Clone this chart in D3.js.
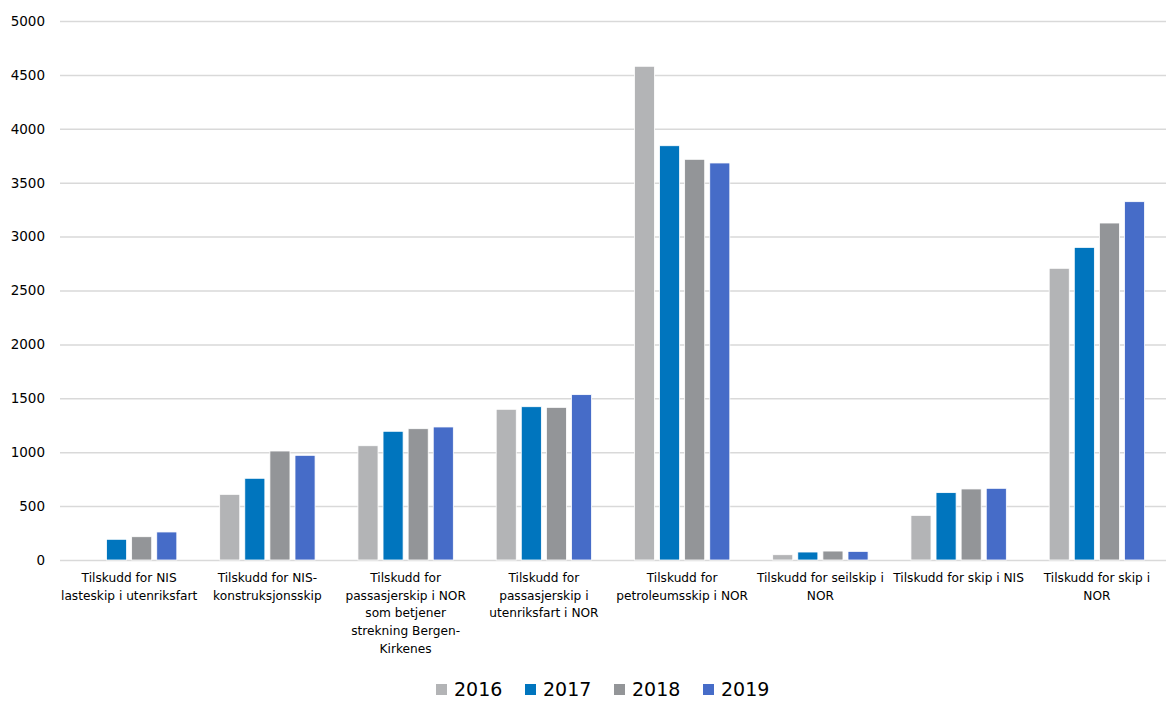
<!DOCTYPE html>
<html>
<head>
<meta charset="utf-8">
<script src="https://cdn.jsdelivr.net/npm/d3@7"></script>
<style>
  body { margin: 0; background: #fff; }
  svg text { font-family: "DejaVu Sans", sans-serif; fill: #000; }
</style>
</head>
<body>
<svg id="chart" width="1166" height="701"></svg>
<script>
// categories, with the line breaks used in the original
var categories = [
    ["Tilskudd for NIS", "lasteskip i utenriksfart"],
    ["Tilskudd for NIS-", "konstruksjonsskip"],
    ["Tilskudd for", "passasjerskip i NOR", "som betjener", "strekning Bergen-", "Kirkenes"],
    ["Tilskudd for", "passasjerskip i", "utenriksfart i NOR"],
    ["Tilskudd for", "petroleumsskip i NOR"],
    ["Tilskudd for seilskip i", "NOR"],
    ["Tilskudd for skip i NIS"],
    ["Tilskudd for skip i", "NOR"]
];
var years = ["2016", "2017", "2018", "2019"];
var values2016 = [0, 609, 1060, 1398, 4580, 49, 414, 2706];
var values2017 = [192, 758, 1194, 1422, 3843, 74, 625, 2900];
var values2018 = [216, 1011, 1218, 1416, 3717, 83, 659, 3126];
var values2019 = [260, 971, 1234, 1534, 3683, 80, 665, 3324];
var yTicks = [0, 500, 1000, 1500, 2000, 2500, 3000, 3500, 4000, 4500, 5000];
var colors = ["#B3B4B6", "#0075BE", "#939598", "#466CC8"];

var series = [values2016, values2017, values2018, values2019];

var svg = d3.select("#chart");
var margin = {left: 60, right: 0, top: 21, bottom: 141};
var width = 1166 - margin.left - margin.right;
var height = 701 - margin.top - margin.bottom;

var g = svg.append("g").attr("transform", "translate(" + margin.left + "," + margin.top + ")");

var x0 = d3.scaleBand().domain(d3.range(categories.length)).range([0, width]).paddingInner(0.31).paddingOuter(0.155);
var x1 = d3.scaleBand().domain(years).range([0, x0.bandwidth()]).paddingInner(0.2);
var y = d3.scaleLinear().domain([0, 5000]).range([height, 0]);

// gridlines + y labels
var yAxis = g.append("g")
    .call(d3.axisLeft(y).tickValues(yTicks).tickFormat(d3.format("d")).tickSize(-width).tickPadding(15));
yAxis.select(".domain").remove();
yAxis.selectAll(".tick line").attr("stroke", "#D9D9D9").attr("stroke-width", 1.5);
yAxis.selectAll(".tick text")
    .attr("font-size", "13.5px")
    .attr("font-family", "DejaVu Sans, sans-serif")
    .attr("fill", "#000");

// bars
var groups = g.selectAll(".cat").data(categories).enter()
    .append("g")
    .attr("class", "cat")
    .attr("transform", function(d, i) { return "translate(" + x0(i) + ",0)"; });

groups.selectAll("rect")
    .data(function(d, i) {
        return years.map(function(yr, k) { return {year: yr, value: series[k][i], k: k}; });
    })
    .enter()
    .append("rect")
    .filter(function(d) { return d.value > 0; })
    .attr("x", function(d) { return x1(d.year); })
    .attr("y", function(d) { return y(d.value); })
    .attr("width", x1.bandwidth())
    .attr("height", function(d) { return height - y(d.value); })
    .attr("fill", function(d) { return colors[d.k]; })
    .attr("stroke", "#fff")
    .attr("stroke-width", 0.8);

// category labels
var xLabels = g.append("g").selectAll("text").data(categories).enter()
    .append("text")
    .attr("x", function(d, i) { return x0(i) + x0.bandwidth() / 2; })
    .attr("y", height + 22)
    .attr("text-anchor", "middle")
    .attr("font-size", "12.2px");
xLabels.each(function(lines) {
    var t = d3.select(this);
    t.selectAll("tspan").data(lines).enter()
        .append("tspan")
        .attr("x", t.attr("x"))
        .attr("dy", function(d, j) { return j === 0 ? 0 : 17.7; })
        .text(function(d) { return d; });
});

// legend (the original is clipped by the bottom edge; kept just inside here)
var legend = svg.append("g").attr("transform", "translate(436,684)");
var legendItems = legend.selectAll("g").data(years).enter()
    .append("g")
    .attr("transform", function(d, i) { return "translate(" + (i * 89) + ",0)"; });
legendItems.append("rect")
    .attr("width", 11).attr("height", 11)
    .attr("fill", function(d, i) { return colors[i]; });
legendItems.append("text")
    .attr("x", 18).attr("y", 12)
    .attr("font-size", "19px")
    .attr("font-family", "Lato, sans-serif")
    .text(function(d) { return d; });
</script>
</body>
</html>
